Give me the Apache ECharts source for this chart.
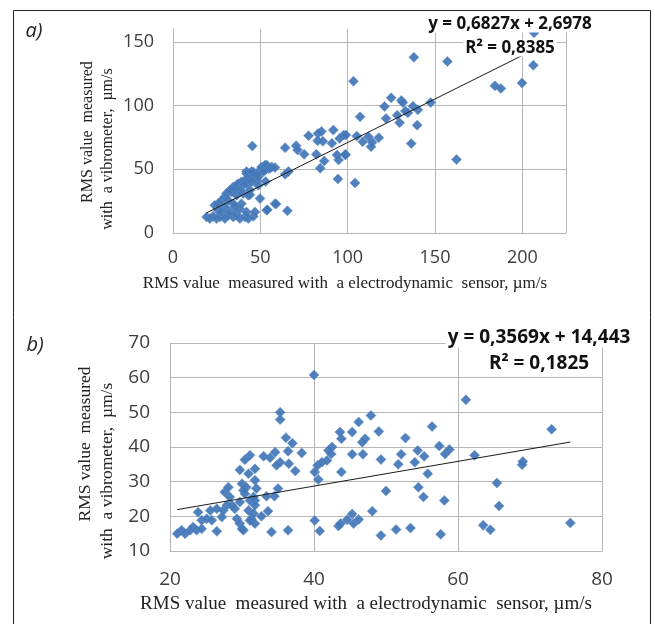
<!DOCTYPE html>
<html>
<head>
<meta charset="utf-8">
<script src="https://cdn.jsdelivr.net/npm/echarts@6/dist/echarts.min.js"></script>
<style>html,body{margin:0;padding:0;background:#fff}#c{width:655px;height:624px}</style>
</head>
<body>
<div id="c"></div>
<script>
// ---- Data (chart a) ----
const aPoints = [
[19.2,12.6],[21.1,11.3],[23,13.1],[24.9,11.3],[26.8,12.6],[29.7,11.3],[31.6,13.9],[34.5,12.6],[36.4,14.7],[38.3,11.3],
[41.2,12.6],[43.1,11.3],[46,13.1],[46.9,16.5],[39.2,23],[38.3,19.1],[42.1,16.5],[49.8,27],[53.6,17.8],[58.4,23],
[23.9,21.7],[25.9,23],[27.8,25.7],[29.7,28.3],[30.6,30.9],[32.5,33.5],[33.5,32.2],[34.5,36.1],[35.4,34.8],[36.4,37.4],
[37.3,38.7],[39.2,40.1],[40.2,37.4],[41.2,41.4],[43.1,42.7],[42.1,46.6],[45,44],[46.9,45.3],[47.9,41.4],[46,47.9],
[49.8,49.2],[50.7,51.8],[52.6,53.1],[54.6,50.5],[56.5,51.8],[48.8,37.4],[44,33.5],[40.2,30.9],[36.4,29.6],
[25.9,17.8],[29.7,20.4],[32.5,16.5],[35.4,20.4],[31.6,25.7],[34.5,23],[27.8,16.5],[38.3,33.5],[42.1,38.7],[45,40],
[48.8,44],[52.6,49.2],[43.1,29.6],
[45.4,68.2],[64.2,66.9],[70.5,68.5],[71.3,65.1],[75.1,61.7],[77.6,76.3],[83,78],[85,79.7],[82.8,72.4],[85.8,71.9],
[91.8,80.7],[91,70.3],[97.7,76.8],[95.4,74.2],[98.7,61.2],[93.9,61.2],[94.8,57.3],[82,61.7],[86.6,56.5],[84.3,50.8],
[94.4,42.4],[64.2,46.1],[66.1,48.2],[42.1,48.2],[45,48.2],[47.9,45.6],[51.7,48.2],[53.6,53.4],[55.6,50.8],[58.4,51.3],
[53,40.4],[44,30],[54,18.2],[65.5,17.4],[59,22.7],
[206.7,157],[206.3,131.5],[199.8,117.7],[184.3,115.4],[187.7,113.3],[137.9,137.8],[157.1,134.6],[103.3,119],[162.3,57.6],[147.5,102.3],
[137.4,99.5],[140.2,96.6],[136.4,70.1],[139.8,84.6],[134.5,94.3],[130.7,104],[131.6,102.3],[124.9,106],[121.1,99.2],[122,89.8],
[129.7,86.5],[128.4,92.4],[133,95.6],[107.1,91.1],[105.2,76],[99,76.8],[108.6,71.6],[111.9,75.5],[113.4,67.7],[114,71.1],
[117.8,74.7],[98.7,61.7],[104.2,39.3]
];
const aTrend = [0.6827, 2.6978];   // slope, intercept
const aLabels = ['y = 0,6827x + 2,6978', 'R² = 0,8385'];

// ---- Data (chart b) ----
const bPoints = [
[21,15],[21.6,16],[22.1,15],[22.8,16],[23.2,16.9],[23.9,21.2],[23.7,16],[24.4,16.4],[24.4,18.9],[25.1,19.3],
[25.6,21.7],[25.8,18.9],[26.5,22.2],[26.5,15.7],[27.2,19.8],[27.4,21.7],[27.6,27],[28.1,28.4],[28.3,25.6],[27.9,23.2],
[28.6,23.2],[29,22.2],[29.7,24.1],[29.3,19.3],[29.7,17.9],[30,16.4],[30.2,16],[30,29.4],[30.4,26.5],[30.6,28.4],
[30.9,21.7],[31.3,19.3],[31.6,20.8],[31.1,24.6],[31.8,30.4],[29.7,33.4],[30.9,32.3],[30.4,36.3],[31.1,37.6],[31.8,33.7],
[31.8,24.6],[31.1,18.8],[30.2,27.5],[31.6,25.6],
[35.3,50],[35.3,47.9],[36.1,42.7],[37,41.1],[36.4,38.8],[38.3,38.3],[36.5,35.2],[37.4,33.1],[34.6,38.5],[35.3,35.6],
[34.8,34.7],[33.9,36.9],[33,37.3],[32,28],[35,28],[34.5,25.8],[33.4,25.8],[31.8,23.2],[33.6,21.5],[32.7,20],
[31.8,17.9],[34.1,15.5],[36.4,16],[40.1,18.8],[40.8,15.8],[40.1,32.8],[40.6,30.6],[40.5,34.7],[41.1,35.6],[41.8,36.1],
[42.4,38],[42.5,40],[42,39],[43.6,44.3],[43.8,42.4],[43.7,17.9],[40,60.8],
[61.1,53.6],[73,45.1],[45.3,44.3],[46.2,47.2],[47.9,49.1],[49,44.5],[47.1,42.4],[46.7,41.4],[45.3,37.9],[46.8,37.9],
[49.3,36.4],[52.7,42.6],[52.1,37.9],[51.7,35],[54.4,39],[55.3,37.3],[54,35.6],[56.4,45.9],[57.4,40.3],[58.2,38],
[58.8,39.3],[55.8,32.3],[62.3,37.6],[69,35.8],[68.9,34.9],[65.4,29.6],[65.7,23],[43.8,32.8],[50,27.3],[54.5,28.4],
[55.2,25.6],[58.1,24.6],[48.1,21.5],[45.3,20.7],[44.6,19],[45.5,17.9],[46.2,19.1],[43.4,17.2],[49.3,14.5],[51.4,16.2],
[53.4,16.6],[57.6,14.8],[63.5,17.4],[64.5,16.1],[75.6,18.1]
];
const bTrend = [0.3569, 14.443];
const bLabels = ['y = 0,3569x + 14,443', 'R² = 0,1825'];

// ---- Axis ticks ----
const aXTicks = {min: 0, max: 225, interval: 50};
const aYTicks = {min: 0, max: 160, interval: 50};
const bXTicks = {min: 20, max: 80, interval: 20};
const bYTicks = {min: 10, max: 70, interval: 10};

const xTitle = 'RMS value  measured with  a electrodynamic  sensor, µm/s';
const yTitle1 = 'RMS value  measured';
const yTitle2 = 'with  a vibrometer,  µm/s';

function trendLine(points, t) {
  const xs = points.map(p => p[0]);
  const x0 = Math.min(...xs), x1 = Math.max(...xs);
  return [[x0, t[0] * x0 + t[1]], [x1, t[0] * x1 + t[1]]];
}

const gridCol = '#b7b7b7';
const labCol = '#3d3d3d';
const fmt = iv => v => (Math.abs(v / iv - Math.round(v / iv)) < 1e-9 ? String(v) : '');

function xAx(g, t, fs, margin) {
  return {type: 'value', gridIndex: g, min: t.min, max: t.max, interval: t.interval,
    axisLine: {show: true, onZero: false, lineStyle: {color: gridCol, width: 1}},
    axisTick: {show: false},
    axisLabel: {color: labCol, fontFamily: 'Open Sans', fontSize: fs, margin: margin, formatter: fmt(t.interval)},
    splitLine: {show: true, lineStyle: {color: gridCol, width: 1}}};
}
function yAx(g, t, fs, margin, showMax) {
  return {type: 'value', gridIndex: g, min: t.min, max: t.max, interval: t.interval,
    axisLine: {show: true, onZero: false, lineStyle: {color: gridCol, width: 1}},
    axisTick: {show: false},
    axisLabel: {color: labCol, fontFamily: 'Open Sans', fontSize: fs, margin: margin, formatter: fmt(t.interval)},
    splitLine: {show: true, showMaxLine: showMax, lineStyle: {color: gridCol, width: 1}}};
}

const sym = {type: 'scatter', symbol: 'diamond', symbolSize: 10,
  itemStyle: {color: '#4477b8', borderColor: 'rgba(90,140,200,0.55)', borderWidth: 1, opacity: 0.93}};

const chart = echarts.init(document.getElementById('c'), null, {renderer: 'canvas'});
chart.setOption({
  animation: false,
  backgroundColor: '#fff',
  grid: [
    {left: 173, top: 29, width: 393, height: 204},
    {left: 170, top: 343, width: 432, height: 208}
  ],
  xAxis: [xAx(0, aXTicks, 18, 16), xAx(1, bXTicks, 19, 19)],
  yAxis: [
    yAx(0, aYTicks, 18, 19, false),
    yAx(1, bYTicks, 19, 20, true),
    {type: 'value', gridIndex: 0, position: 'right', min: 0, max: 1,
      axisLine: {show: true, lineStyle: {color: gridCol}}, axisTick: {show: false},
      axisLabel: {show: false}, splitLine: {show: false}}
  ],
  series: [
    Object.assign({}, sym, {xAxisIndex: 0, yAxisIndex: 0, data: aPoints, z: 3}),
    {type: 'line', xAxisIndex: 0, yAxisIndex: 0, data: trendLine(aPoints, aTrend), showSymbol: false,
      symbol: 'none', lineStyle: {color: '#1a1a1a', width: 1}, z: 4},
    Object.assign({}, sym, {xAxisIndex: 1, yAxisIndex: 1, data: bPoints, z: 3}),
    {type: 'line', xAxisIndex: 1, yAxisIndex: 1, data: trendLine(bPoints, bTrend), showSymbol: false,
      symbol: 'none', lineStyle: {color: '#1a1a1a', width: 1}, z: 4}
  ],
  graphic: [
    {type: 'rect', shape: {x: 13.5, y: 10.5, width: 637, height: 640}, style: {fill: 'none', stroke: '#222', lineWidth: 1}, z: 1},
    {type: 'text', x: 34, y: 31, style: {text: 'a)', font: 'italic 20px "Open Sans"', fill: '#222', align: 'center', verticalAlign: 'middle'}, z: 10},
    {type: 'text', x: 35, y: 345, style: {text: 'b)', font: 'italic 20px "Open Sans"', fill: '#222', align: 'center', verticalAlign: 'middle'}, z: 10},
    // equation labels
    {type: 'text', x: 510, y: 24, style: {text: aLabels[0], font: 'bold 17px "Open Sans"', fill: '#111', align: 'center', verticalAlign: 'middle', backgroundColor: '#fff', padding: [0, 2]}, z: 10},
    {type: 'text', x: 510, y: 48, style: {text: aLabels[1], font: 'bold 17px "Open Sans"', fill: '#111', align: 'center', verticalAlign: 'middle', backgroundColor: '#fff', padding: [0, 2]}, z: 10},
    {type: 'text', x: 539, y: 338, style: {text: bLabels[0], font: 'bold 19px "Open Sans"', fill: '#111', align: 'center', verticalAlign: 'middle', backgroundColor: '#fff', padding: [0, 2]}, z: 10},
    {type: 'text', x: 539, y: 364, style: {text: bLabels[1], font: 'bold 19px "Open Sans"', fill: '#111', align: 'center', verticalAlign: 'middle', backgroundColor: '#fff', padding: [0, 2]}, z: 10},
    // x titles
    {type: 'text', x: 345, y: 284, style: {text: xTitle, font: '17px "Liberation Serif"', fill: '#222', align: 'center', verticalAlign: 'middle'}, z: 10},
    {type: 'text', x: 366, y: 604, style: {text: xTitle, font: '19px "Liberation Serif"', fill: '#222', align: 'center', verticalAlign: 'middle'}, z: 10},
    // y titles
    {type: 'text', x: 88, y: 132, rotation: Math.PI / 2, style: {text: yTitle1, font: '16px "Liberation Serif"', fill: '#222', align: 'center', verticalAlign: 'middle'}, z: 10},
    {type: 'text', x: 108, y: 149, rotation: Math.PI / 2, style: {text: yTitle2, font: '16px "Liberation Serif"', fill: '#222', align: 'center', verticalAlign: 'middle'}, z: 10},
    {type: 'text', x: 85, y: 444, rotation: Math.PI / 2, style: {text: yTitle1, font: '17.5px "Liberation Serif"', fill: '#222', align: 'center', verticalAlign: 'middle'}, z: 10},
    {type: 'text', x: 107, y: 471, rotation: Math.PI / 2, style: {text: yTitle2, font: '17.5px "Liberation Serif"', fill: '#222', align: 'center', verticalAlign: 'middle'}, z: 10}
  ]
});
</script>
</body>
</html>
